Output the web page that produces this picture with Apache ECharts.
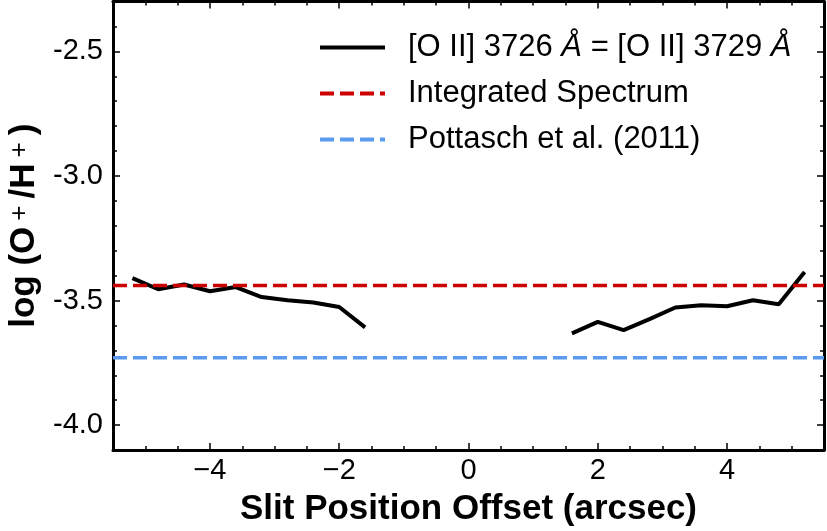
<!DOCTYPE html>
<html>
<head>
<meta charset="utf-8">
<script src="https://cdn.jsdelivr.net/npm/echarts@6/dist/echarts.min.js"></script>
<style>
  html, body { margin: 0; padding: 0; background: #fff; }
  #chart { width: 827px; height: 531px; }
</style>
</head>
<body>
<div id="chart"></div>
<script>
// slit offsets (arcsec) and log(O+/H+) for the two sides of the nebula
var leftOffsets = [-5.2, -4.8, -4.4, -4.0, -3.6, -3.2, -2.8, -2.4, -2.0, -1.6];
var leftValues = [-3.41, -3.455, -3.436, -3.463, -3.446, -3.486, -3.499, -3.508, -3.526, -3.608];
var rightOffsets = [1.6, 2.0, 2.4, 2.8, 3.2, 3.6, 4.0, 4.4, 4.8, 5.2];
var rightValues = [-3.632, -3.586, -3.619, -3.575, -3.528, -3.519, -3.523, -3.499, -3.515, -3.386];

// reference levels
var integratedValue = -3.44;
var pottaschValue = -3.73;

// axis ranges and ticks
var xRange = [-5.5, 5.5];
var yRange = [-4.1, -2.3];
var xTickValues = [-4, -2, 0, 2, 4];
var xTickLabels = ['\u22124', '\u22122', '0', '2', '4'];
var xMinorValues = [-5, -4.5, -3.5, -3, -2.5, -1.5, -1, -0.5, 0.5, 1, 1.5, 2.5, 3, 3.5, 4.5, 5];
var yTickValues = [-4.0, -3.5, -3.0, -2.5];
var yTickLabels = ['-4.0', '-3.5', '-3.0', '-2.5'];
var yMinorValues = [-4.1, -3.9, -3.8, -3.7, -3.6, -3.4, -3.3, -3.2, -3.1, -2.9, -2.8, -2.7, -2.6, -2.4, -2.3];

var legendNames = ['oii', 'integrated', 'pottasch'];
var legendTexts = {
    oii: '[O II] 3726 {it|\u00C5} = [O II] 3729 {it|\u00C5}',
    integrated: 'Integrated Spectrum',
    pottasch: 'Pottasch et al. (2011)'
};

var redColor = '#cc0000';
var blueColor = '#5a9bf0';
var fontFamily = '"Liberation Sans", Arial, sans-serif';

function pairs(xs, ys) {
    return xs.map(function(x, i) {
        return [x, ys[i]];
    });
}

function labelFor(values, labels) {
    return function(v) {
        for (var i = 0; i < values.length; i++) {
            if (Math.abs(values[i] - v) < 1e-6) {
                return labels[i];
            }
        }
        return '';
    };
}

function makeXAxis(position, minor) {
    return {
        type: 'value',
        position: position,
        min: xRange[0],
        max: xRange[1],
        axisLine: { show: !minor, onZero: false, lineStyle: { color: '#000', width: 3 } },
        axisTick: {
            show: true,
            inside: true,
            length: minor ? 4 : 7,
            customValues: minor ? xMinorValues : xTickValues,
            lineStyle: { color: '#000', width: 1.5 }
        },
        axisLabel: {
            show: position === 'bottom' && !minor,
            customValues: xTickValues,
            formatter: labelFor(xTickValues, xTickLabels),
            color: '#000',
            fontSize: 29,
            fontFamily: fontFamily,
            margin: 6
        },
        splitLine: { show: false }
    };
}

function makeYAxis(position, minor) {
    return {
        type: 'value',
        position: position,
        min: yRange[0],
        max: yRange[1],
        axisLine: { show: !minor, onZero: false, lineStyle: { color: '#000', width: 3 } },
        axisTick: {
            show: true,
            inside: true,
            length: minor ? 4 : 7,
            customValues: minor ? yMinorValues : yTickValues,
            lineStyle: { color: '#000', width: 1.5 }
        },
        axisLabel: {
            show: position === 'left' && !minor,
            customValues: yTickValues,
            formatter: labelFor(yTickValues, yTickLabels),
            color: '#000',
            fontSize: 29,
            fontFamily: fontFamily,
            margin: 10
        },
        splitLine: { show: false }
    };
}

var xAxes = [makeXAxis('bottom', false), makeXAxis('bottom', true), makeXAxis('top', false), makeXAxis('top', true)];
xAxes[0].name = 'Slit Position Offset (arcsec)';
xAxes[0].nameLocation = 'middle';
xAxes[0].nameGap = 42;
xAxes[0].nameTextStyle = { color: '#000', fontSize: 35, fontWeight: 'bold', fontFamily: fontFamily };

var yAxes = [makeYAxis('left', false), makeYAxis('left', true), makeYAxis('right', false), makeYAxis('right', true)];
yAxes[0].name = 'log (O{sup|+}/H{sup|+})';
yAxes[0].nameLocation = 'middle';
yAxes[0].nameRotate = 90;
yAxes[0].nameGap = 70;
yAxes[0].nameTextStyle = {
    color: '#000', fontSize: 35, fontWeight: 'bold', fontFamily: fontFamily,
    rich: {
        sup: { fontSize: 26, fontWeight: 'normal', fontFamily: fontFamily, color: '#000', verticalAlign: 'top', padding: [0, 7, 0, 6] }
    }
};

var blackLine = { color: '#000', width: 4 };

var option = {
    animation: false,
    backgroundColor: '#fff',
    grid: { left: 113, right: 3, top: 1.5, bottom: 81, outerBoundsMode: 'none' },
    legend: {
        data: legendNames,
        orient: 'vertical',
        left: 318,
        top: 32,
        padding: 0,
        itemWidth: 65,
        itemHeight: 14,
        itemGap: 15,
        itemStyle: { opacity: 0 },
        lineStyle: { width: 4 },
        formatter: function(name) {
            return legendTexts[name];
        },
        textStyle: {
            color: '#000',
            fontSize: 31,
            lineHeight: 30,
            fontFamily: fontFamily,
            padding: [0, 0, 0, 18],
            rich: {
                it: { fontStyle: 'italic', fontSize: 31, fontFamily: fontFamily, color: '#000' }
            }
        }
    },
    xAxis: xAxes,
    yAxis: yAxes,
    series: [
        {
            name: 'oii', type: 'line', symbol: 'none', xAxisIndex: 0, yAxisIndex: 0,
            data: pairs(leftOffsets, leftValues), lineStyle: blackLine, itemStyle: { color: '#000' }
        },
        {
            name: 'oii', type: 'line', symbol: 'none', xAxisIndex: 0, yAxisIndex: 0,
            data: pairs(rightOffsets, rightValues), lineStyle: blackLine, itemStyle: { color: '#000' }
        },
        {
            name: 'integrated', type: 'line', symbol: 'none', xAxisIndex: 0, yAxisIndex: 0,
            data: xRange.map(function(x) { return [x, integratedValue]; }),
            lineStyle: { color: redColor, width: 3.5, type: [14, 6] }, itemStyle: { color: redColor }
        },
        {
            name: 'pottasch', type: 'line', symbol: 'none', xAxisIndex: 0, yAxisIndex: 0,
            data: xRange.map(function(x) { return [x, pottaschValue]; }),
            lineStyle: { color: blueColor, width: 3.5, type: [14, 6] }, itemStyle: { color: blueColor }
        }
    ]
};

var chart = echarts.init(document.getElementById('chart'));
chart.setOption(option);
</script>
</body>
</html>
